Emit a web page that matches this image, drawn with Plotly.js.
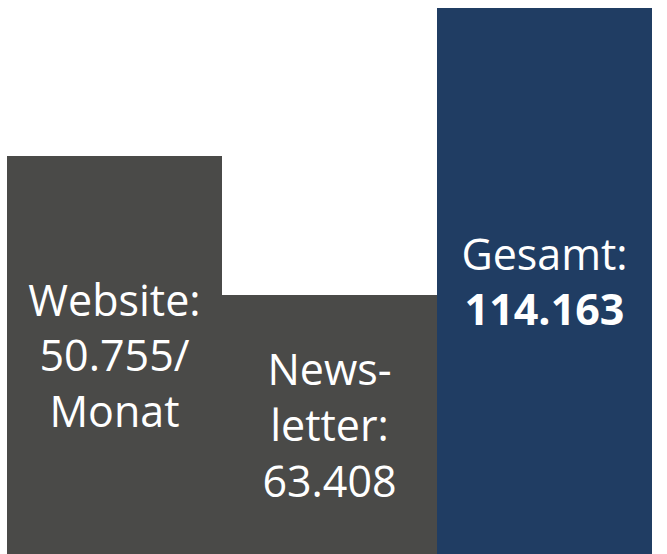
<!DOCTYPE html>
<html>
<head>
<meta charset="utf-8">
<script src="https://cdn.plot.ly/plotly-3.0.1.min.js"></script>
<style>html,body{margin:0;padding:0;background:#fff;}#chart{width:667px;height:554px;}</style>
</head>
<body>
<div id="chart"></div>
<script>
// Categories and labels as printed in the picture
const categories = ["Website", "Newsletter", "Gesamt"];
const labels = ["Website:<br>50.755/<br>Monat", "News-<br>letter:<br>63.408", "Gesamt:<br><b>114.163</b>"];
// Drawn bar heights (relative)
const barHeights = [398, 259, 546];
const colors = ["#4a4a48", "#4a4a48", "#203d63"];

const trace = {
  type: "bar",
  x: categories,
  y: barHeights,
  text: labels,
  textposition: "inside",
  insidetextanchor: "middle",
  textangle: 0,
  constraintext: "none",
  textfont: {family: "Open Sans, sans-serif", size: 43, color: "#ffffff"},
  marker: {color: colors, line: {width: 0}},
  hoverinfo: "none"
};

const layout = {
  width: 667,
  height: 554,
  margin: {l: 7, r: 15, t: 8, b: 0, pad: 0},
  bargap: 0,
  showlegend: false,
  paper_bgcolor: "#ffffff",
  plot_bgcolor: "#ffffff",
  xaxis: {visible: false, showgrid: false, zeroline: false},
  yaxis: {visible: false, showgrid: false, zeroline: false, range: [0, 546]}
};

Plotly.newPlot("chart", [trace], layout, {displayModeBar: false, staticPlot: true});
</script>
</body>
</html>
